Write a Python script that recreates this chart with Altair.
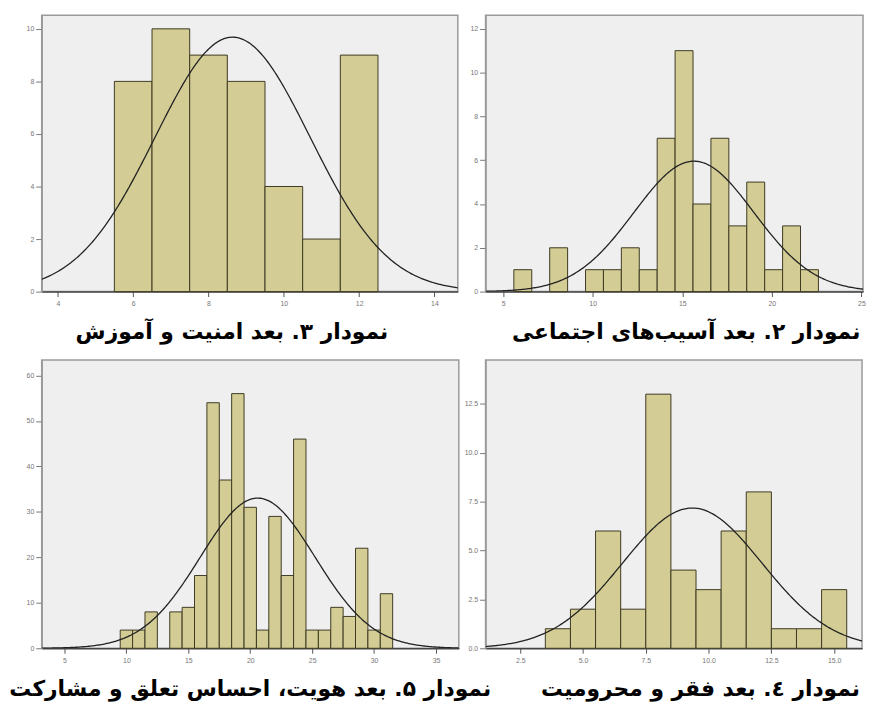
import altair as alt
import pandas as pd

# ---------------- data ----------------
# Panel "نمودار ۳" (top-left)
a_lo = [5.5, 6.5, 7.5, 8.5, 9.5, 10.5, 11.5]
a_count = [8, 10, 9, 8, 4, 2, 9]
a_mean, a_sd = 8.64, 2.06
a_xticks = [4, 6, 8, 10, 12, 14]
a_yticks = [0, 2, 4, 6, 8, 10]

# Panel "نمودار ۲" (top-right)
b_lo = [5.6, 7.6, 9.6, 10.6, 11.6, 12.6, 13.6, 14.6, 15.6, 16.6, 17.6, 18.6, 19.6, 20.6, 21.6]
b_count = [1, 2, 1, 1, 2, 1, 7, 11, 4, 7, 3, 5, 1, 3, 1]
b_mean, b_sd = 15.65, 3.35
b_xticks = [5, 10, 15, 20, 25]
b_yticks = [0, 2, 4, 6, 8, 10, 12]

# Panel "نمودار ۵" (bottom-left)
c_lo = [9.5, 10.5, 11.5, 13.5, 14.5, 15.5, 16.5, 17.5, 18.5, 19.5, 20.5,
        21.5, 22.5, 23.5, 24.5, 25.5, 26.5, 27.5, 28.5, 29.5, 30.5]
c_count = [4, 4, 8, 8, 9, 16, 54, 37, 56, 31, 4, 29, 16, 46, 4, 4, 9, 7, 22, 4, 12]
c_mean, c_sd = 20.6, 4.64
c_xticks = [5, 10, 15, 20, 25, 30, 35]
c_yticks = [0, 10, 20, 30, 40, 50, 60]

# Panel "نمودار ٤" (bottom-right)
d_lo = [3.5, 4.5, 5.5, 6.5, 7.5, 8.5, 9.5, 10.5, 11.5, 12.5, 13.5, 14.5]
d_count = [1, 2, 6, 2, 13, 4, 3, 6, 8, 1, 1, 3]
d_mean, d_sd = 9.35, 2.78
d_xticks = [2.5, 5.0, 7.5, 10.0, 12.5, 15.0]
d_yticks = [0.0, 2.5, 5.0, 7.5, 10.0, 12.5]

bin_width = 1

titles = {
    "a": "نمودار ۳. بعد امنیت و آموزش",
    "b": "نمودار ۲. بعد آسیب\u200cهای اجتماعی",
    "c": "نمودار ۵. بعد هویت، احساس تعلق و مشارکت",
    "d": "نمودار ٤. بعد فقر و محرومیت",
}

BAR_FILL = "#D3CC94"
BAR_STROKE = "#3E3A22"


def panel(lo, cnt, mean, sd, xdom, ydom, xticks, yticks, fmt, w, h, title, tdx):
    n = sum(cnt)
    df = pd.DataFrame({"lo": lo, "count": cnt})
    xs = alt.Scale(domain=xdom, nice=False, zero=False)
    ys = alt.Scale(domain=ydom, nice=False, zero=True)
    xaxis = alt.Axis(values=xticks, format=fmt, title=None, grid=False,
                     tickSize=5, labelPadding=3, domainColor="#444",
                     domainWidth=1.5, tickColor="#555")
    yaxis = alt.Axis(values=yticks, format=fmt, title=None, grid=False,
                     tickSize=6, labelPadding=2, domainColor="#9A9A9A",
                     domainWidth=1.5, tickColor="#777")
    bars = (
        alt.Chart(df)
        .transform_calculate(hi=f"datum.lo + {bin_width}")
        .mark_rect(fill=BAR_FILL, stroke=BAR_STROKE, strokeWidth=1)
        .encode(
            x=alt.X("lo:Q", scale=xs, axis=xaxis),
            x2="hi:Q",
            y=alt.Y("count:Q", scale=ys, axis=yaxis),
            y2=alt.datum(0),
        )
    )
    step = (xdom[1] - xdom[0]) / 300.0
    curve = (
        alt.Chart(alt.sequence(xdom[0], xdom[1] + step, step, as_="x"))
        .transform_calculate(
            dens=f"{n * bin_width}/({sd}*sqrt(2*PI))*exp(-0.5*pow((datum.x-{mean})/{sd},2))"
        )
        .mark_line(color="#222222", strokeWidth=1.3, clip=True)
        .encode(
            x=alt.X("x:Q", scale=xs, axis=xaxis),
            y=alt.Y("dens:Q", scale=ys, axis=yaxis),
        )
    )
    return alt.layer(bars, curve).properties(
        width=w,
        height=h,
        title=alt.TitleParams(
            text=title, orient="bottom", anchor="middle", frame="group",
            font="DejaVu Sans", fontSize=22, fontWeight="bold", color="black",
            offset=16, dx=tdx,
        ),
    )


pa = panel(a_lo, a_count, a_mean, a_sd, [3.57, 14.62], [0, 10.52],
           a_xticks, a_yticks, "d", 420, 279, titles["a"], -18)
pb = panel(b_lo, b_count, b_mean, b_sd, [4.02, 25.09], [0, 12.62],
           b_xticks, b_yticks, "d", 381, 279, titles["b"], 12)
pc = panel(c_lo, c_count, c_mean, c_sd, [3.16, 36.84], [0, 63.4],
           c_xticks, c_yticks, "d", 421, 291, titles["c"], 0)
pd_ = panel(d_lo, d_count, d_mean, d_sd, [1.12, 16.11], [0, 14.75],
            d_xticks, d_yticks, ".1f", 380, 291, titles["d"], 27)

chart = (
    alt.concat(pa, pb, pc, pd_, columns=2,
               spacing={"row": 69, "column": 27}, bounds="flush", align="none")
    .properties(padding={"left": 0, "top": 3, "right": 0, "bottom": 0},
                background="white")
    .configure_view(fill="#EFEFEF", stroke="#9A9A9A", strokeWidth=1.5)
    .configure_axis(labelFont="Liberation Sans", labelFontSize=7,
                    labelColor="#777777")
)

chart.save("out.html", embed_options={"renderer": "svg", "actions": False})
